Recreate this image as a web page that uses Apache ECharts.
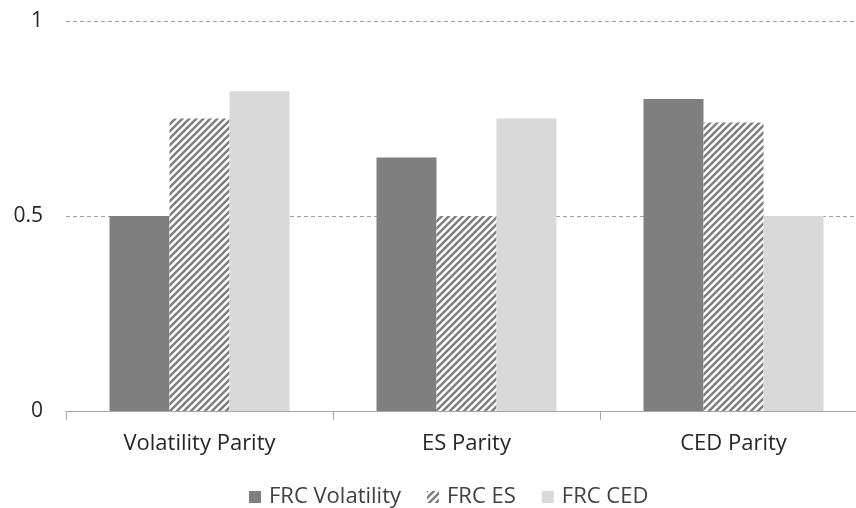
<!DOCTYPE html>
<html>
<head>
<meta charset="utf-8">
<script src="https://cdn.jsdelivr.net/npm/echarts@6/dist/echarts.min.js"></script>
<style>html,body{margin:0;padding:0;background:#fff}#c{width:856px;height:508px}</style>
</head>
<body>
<div id="c"></div>
<script>
const categories = ['Volatility Parity', 'ES Parity', 'CED Parity'];
const frcVolatility = [0.50, 0.65, 0.80];
const frcES = [0.75, 0.50, 0.74];
const frcCED = [0.82, 0.75, 0.50];
const seriesNames = ['FRC Volatility', 'FRC ES', 'FRC CED'];

function hatch() {
  const s = 7;
  const cv = document.createElement('canvas');
  cv.width = s; cv.height = s;
  const ctx = cv.getContext('2d');
  ctx.fillStyle = '#ffffff';
  ctx.fillRect(0, 0, s, s);
  ctx.strokeStyle = '#7f7f7f';
  ctx.lineWidth = 2.5;
  ctx.beginPath();
  [[0, s, s, 0], [-s/2, s/2, s/2, -s/2], [s/2, s*1.5, s*1.5, s/2]].forEach(l => {
    ctx.moveTo(l[0], l[1]); ctx.lineTo(l[2], l[3]);
  });
  ctx.stroke();
  return { image: cv, repeat: 'repeat' };
}

const font = 'Open Sans, Liberation Sans, sans-serif';
const chart = echarts.init(document.getElementById('c'), null, { renderer: 'canvas' });
chart.setOption({
  animation: false,
  backgroundColor: '#fff',
  grid: { left: 66, width: 801, top: 21, bottom: 97, containLabel: false, outerBoundsMode: 'none' },
  legend: {
    bottom: 0,
    left: 249,
    padding: 0,
    itemWidth: 12, itemHeight: 12, itemGap: 26,
    icon: 'rect',
    textStyle: { fontSize: 22, color: '#404040', fontFamily: font, padding: [0, 0, 0, 3] },
    data: seriesNames
  },
  xAxis: {
    type: 'category',
    data: categories,
    axisLine: { lineStyle: { color: '#a6a6a6', width: 1 } },
    axisTick: { show: true, length: 9, lineStyle: { color: '#a6a6a6' } },
    axisLabel: { fontSize: 22, color: '#262626', margin: 22, fontFamily: font }
  },
  yAxis: {
    type: 'value',
    min: 0, max: 1, interval: 0.5,
    axisLine: { show: false },
    axisTick: { show: false },
    axisLabel: { fontSize: 21, color: '#262626', margin: 23, fontFamily: font },
    splitLine: { lineStyle: { color: '#a0a0a0', type: [4, 3], width: 1 } }
  },
  series: [
    { name: seriesNames[0], type: 'bar', data: frcVolatility, barWidth: 60, barGap: '0%', itemStyle: { color: '#7f7f7f' } },
    { name: seriesNames[1], type: 'bar', data: frcES, barWidth: 60, barGap: '0%', itemStyle: { color: hatch() } },
    { name: seriesNames[2], type: 'bar', data: frcCED, barWidth: 60, barGap: '0%', itemStyle: { color: '#d9d9d9' } }
  ]
});
</script>
</body>
</html>
